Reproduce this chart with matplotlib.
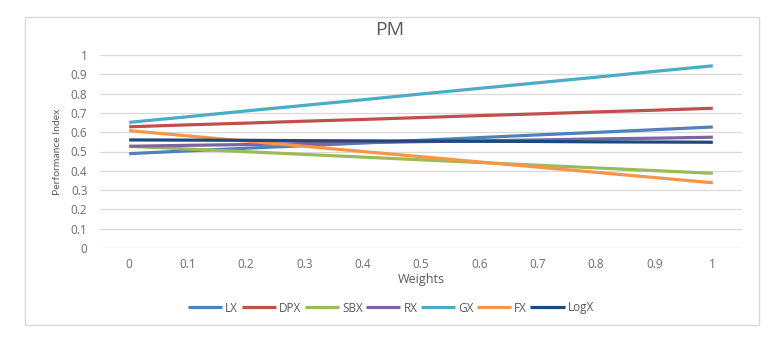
import matplotlib.pyplot as plt
from matplotlib.patches import Rectangle

plt.rcParams['font.family'] = ['Open Sans', 'DejaVu Sans']

# Data
weights = [0, 0.1, 0.2, 0.3, 0.4, 0.5, 0.6, 0.7, 0.8, 0.9, 1]
lx = [0.489, 0.503, 0.517, 0.530, 0.544, 0.558, 0.572, 0.586, 0.599, 0.613, 0.627]
dpx = [0.628, 0.638, 0.647, 0.657, 0.666, 0.676, 0.686, 0.695, 0.705, 0.714, 0.724]
sbx = [0.527, 0.513, 0.499, 0.485, 0.471, 0.457, 0.443, 0.429, 0.415, 0.401, 0.387]
rx = [0.527, 0.532, 0.536, 0.541, 0.546, 0.551, 0.555, 0.560, 0.565, 0.569, 0.574]
gx = [0.651, 0.680, 0.710, 0.739, 0.768, 0.798, 0.827, 0.856, 0.885, 0.915, 0.944]
fx = [0.608, 0.581, 0.554, 0.527, 0.500, 0.473, 0.446, 0.419, 0.392, 0.365, 0.338]
logx = [0.560, 0.559, 0.558, 0.556, 0.555, 0.554, 0.553, 0.552, 0.550, 0.549, 0.548]

series = [('LX', lx, '#4F81BD'), ('DPX', dpx, '#C0504D'), ('SBX', sbx, '#9BBB59'),
          ('RX', rx, '#8064A2'), ('GX', gx, '#4BACC6'), ('FX', fx, '#F79646'),
          ('LogX', logx, '#1F497D')]

fig = plt.figure(figsize=(7.72, 3.41), dpi=100)
# outer chart border
fig.patches.append(Rectangle((25 / 772, 1 - 325 / 341), 734 / 772, 308 / 341,
                             transform=fig.transFigure, fill=False,
                             edgecolor='#D9D9D9', linewidth=1))

ax = fig.add_axes([100 / 772, 1 - 248 / 341, 642 / 772, 193 / 341])
for name, vals, col in series:
    ax.plot(weights, vals, color=col, linewidth=2.3, label=name, solid_capstyle='butt')

ax.set_xlim(-0.05, 1.05)
ax.set_ylim(0, 1)
ax.set_xticks(weights)
ax.set_xticklabels(['0', '0.1', '0.2', '0.3', '0.4', '0.5', '0.6', '0.7', '0.8', '0.9', '1'])
ax.set_yticks([i / 10 for i in range(11)])
ax.set_yticklabels(['0', '0.1', '0.2', '0.3', '0.4', '0.5', '0.6', '0.7', '0.8', '0.9', '1'])
ax.tick_params(axis='x', length=0, labelsize=8.5, labelcolor='#6d6d6d', pad=7)
ax.tick_params(axis='y', length=0, labelsize=8.5, labelcolor='#6d6d6d', pad=9)
ax.grid(axis='y', color='#D9D9D9', linewidth=0.9)
ax.set_axisbelow(True)
for s in ax.spines.values():
    s.set_visible(False)

ax.set_xlabel('Weights', fontsize=9, color='#595959', labelpad=2)
ax.set_ylabel('Performance Index', fontsize=7.5, color='#595959', labelpad=6,
              family=['Lato', 'DejaVu Sans'])
fig.text(390 / 772, 1 - 30 / 341, 'PM', ha='center', va='center', fontsize=14, color='#595959')

fig.legend(loc='center', bbox_to_anchor=(391 / 772, 1 - 308 / 341), ncol=7, frameon=False,
           fontsize=8.5, labelcolor='#595959', handlelength=2.9, handletextpad=0.25,
           columnspacing=0.3)

plt.savefig('out.png', dpi=100)
